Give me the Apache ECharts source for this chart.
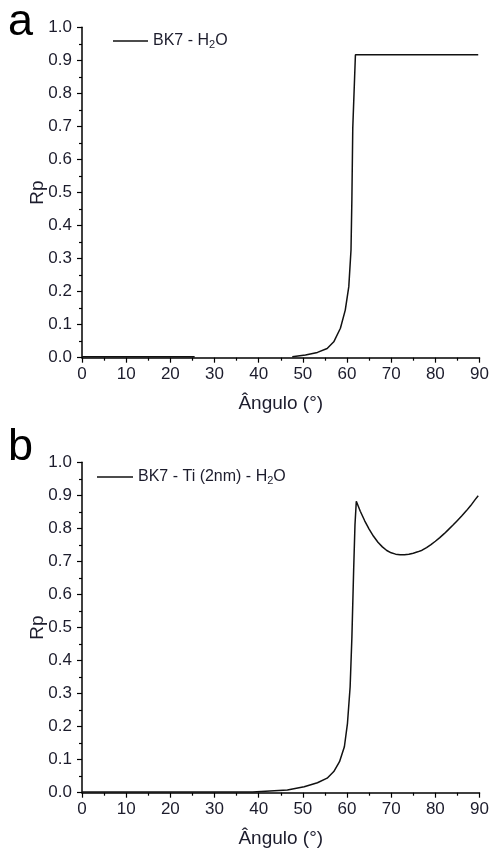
<!DOCTYPE html>
<html>
<head>
<meta charset="utf-8">
<script src="https://cdn.jsdelivr.net/npm/echarts@6/dist/echarts.min.js"></script>
<style>
html,body{margin:0;padding:0;background:#fff;}
#chart{width:492px;height:854px;}
</style>
</head>
<body>
<div id="chart"></div>
<script>
// Panel a: BK7 - H2O
const angleA = [0, 25.5, 36, 47.6, 50.6, 53.3, 55.5, 57.0, 58.5, 59.6, 60.4, 60.9, 61.1, 61.3, 61.7, 61.9, 89.7];
const rpA    = [0.003, 0.003, null, 0.003, 0.008, 0.016, 0.028, 0.048, 0.089, 0.144, 0.215, 0.326, 0.48, 0.695, 0.843, 0.917, 0.917];
// Panel b: BK7 - Ti (2nm) - H2O
const angleB = [0, 38.6, 38.7, 46.5, 50.3, 53.3, 55.5, 57.0, 58.3, 59.4, 60.1, 60.7, 61.1, 61.5, 61.8, 62.1,
                63, 64, 65, 66, 67, 68, 69, 70, 71, 72, 73, 74, 75, 76, 77, 78, 79, 80, 81, 82, 83, 84, 85, 86, 87, 88, 89, 89.7];
const rpB    = [0.002, 0.002, 0.005, 0.008, 0.018, 0.030, 0.044, 0.064, 0.094, 0.139, 0.21, 0.32, 0.47, 0.675, 0.811, 0.882,
                0.852, 0.823, 0.798, 0.776, 0.758, 0.744, 0.733, 0.726, 0.722, 0.720, 0.720, 0.722, 0.725, 0.729, 0.734, 0.742, 0.751, 0.761, 0.772, 0.784, 0.797, 0.810, 0.824, 0.838, 0.853, 0.869, 0.887, 0.899];
const xTicks = [0, 10, 20, 30, 40, 50, 60, 70, 80, 90];
const yTicks = [0.0, 0.1, 0.2, 0.3, 0.4, 0.5, 0.6, 0.7, 0.8, 0.9, 1.0];
const nameA = 'BK7 - H2O';
const nameB = 'BK7 - Ti (2nm) - H2O';
const xTitle = 'Ângulo (°)';
const yTitle = 'Rp';

const FONT = 'Liberation Sans, Arial, sans-serif';
const TXT = '#1c1c2c';

function pair(xs, ys){ return xs.map((x,i)=> [x, ys[i] === null ? '-' : ys[i]]); }

function xAxis(idx){
  return {
    type:'value', gridIndex: idx, min: xTicks[0], max: xTicks[xTicks.length-1], interval: 10,
    name: xTitle, nameLocation:'middle', nameGap: 37, nameMoveOverlap: false,
    nameTextStyle:{fontFamily:FONT, fontSize:19, color:TXT},
    axisLine:{show:true, onZero:false, lineStyle:{color:'#000', width:1.5}},
    axisTick:{show:true, inside:false, length:5, lineStyle:{color:'#000', width:1.2}},
    minorTick:{show:true, splitNumber:2, length:3, lineStyle:{color:'#000', width:1.2}},
    splitLine:{show:false},
    axisLabel:{fontFamily:FONT, fontSize:17, color:TXT, margin:8}
  };
}
function yAxis(idx){
  return {
    type:'value', gridIndex: idx, min: yTicks[0], max: yTicks[yTicks.length-1], interval: 0.1,
    name: yTitle, nameLocation:'middle', nameGap: 35, nameRotate: 90, nameMoveOverlap: false,
    nameTextStyle:{fontFamily:FONT, fontSize:19, color:TXT},
    axisLine:{show:true, onZero:false, lineStyle:{color:'#000', width:1.5}},
    axisTick:{show:true, inside:false, length:5, lineStyle:{color:'#000', width:1.2}},
    minorTick:{show:true, splitNumber:2, length:3, lineStyle:{color:'#000', width:1.2}},
    splitLine:{show:false},
    axisLabel:{fontFamily:FONT, fontSize:17, color:TXT, margin:10, formatter: v => v.toFixed(1)}
  };
}
function legendFmt(name){
  return name.replace('H2O', 'H{sub|2}O');
}
const legendText = {fontFamily:FONT, fontSize:16, color:TXT,
  rich:{sub:{fontFamily:FONT, fontSize:11, color:TXT, padding:[8,0,0,0]}}};

const chart = echarts.init(document.getElementById('chart'), null, {renderer:'canvas'});
chart.setOption({
  backgroundColor:'#fff',
  animation:false,
  grid:[
    {left:82, right:9, top:27.3, height:330.4},
    {left:82, right:9, top:462.3, height:330.4}
  ],
  xAxis:[xAxis(0), xAxis(1)],
  yAxis:[yAxis(0), yAxis(1)],
  legend:[
    {data:[nameA], left:113, top:33, padding:0, icon:'rect', itemWidth:35, itemHeight:1.5, itemGap:5,
     formatter: legendFmt, textStyle: legendText, selectedMode:false},
    {data:[nameB], left:97, top:469, padding:0, icon:'rect', itemWidth:36, itemHeight:1.5, itemGap:5,
     formatter: legendFmt, textStyle: legendText, selectedMode:false}
  ],
  graphic:[
    {type:'text', left:8, top:0, style:{text:'a', font:'45px '+FONT, fill:'#000'}},
    {type:'text', left:8, top:425, style:{text:'b', font:'45px '+FONT, fill:'#000'}}
  ],
  series:[
    {name:nameA, type:'line', xAxisIndex:0, yAxisIndex:0, data:pair(angleA, rpA), showSymbol:false,
     connectNulls:false, lineStyle:{color:'#111', width:1.5}, itemStyle:{color:'#111'}},
    {name:nameB, type:'line', xAxisIndex:1, yAxisIndex:1, data:pair(angleB, rpB), showSymbol:false,
     lineStyle:{color:'#111', width:1.5}, itemStyle:{color:'#111'}}
  ]
});
</script>
</body>
</html>
